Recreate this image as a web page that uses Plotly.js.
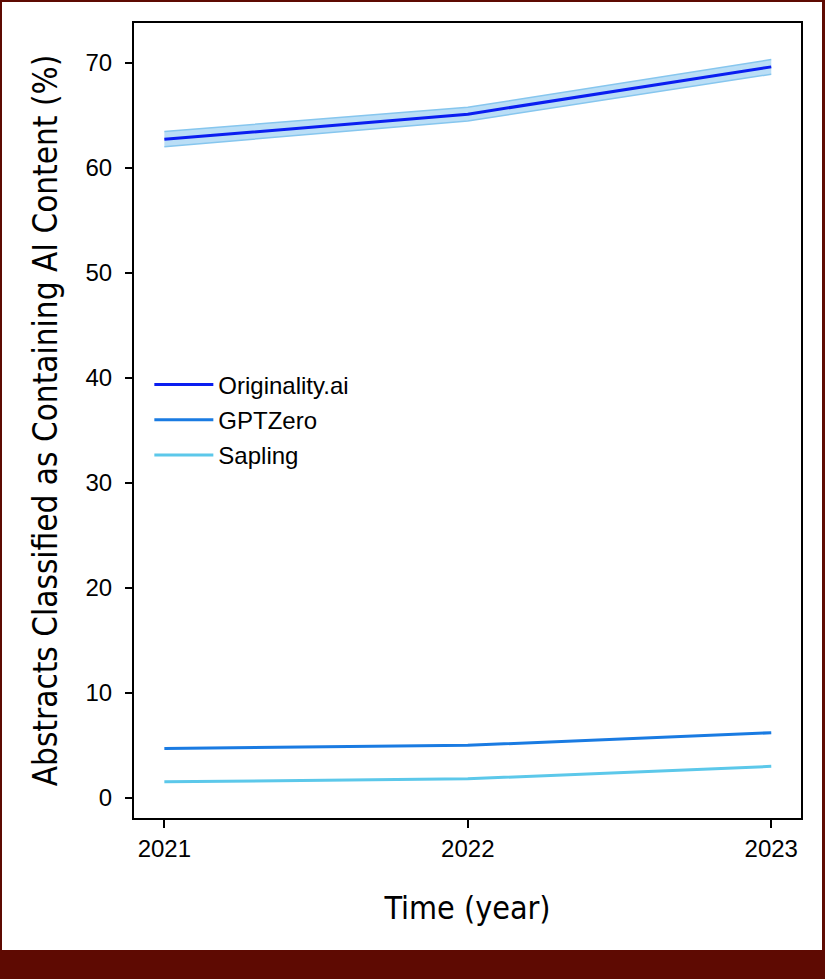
<!DOCTYPE html>
<html>
<head>
<meta charset="utf-8">
<script src="https://cdn.plot.ly/plotly-3.0.1.min.js"></script>
<style>
  html, body { margin: 0; padding: 0; background: #5E0A02; }
  #wrap { width: 825px; height: 979px; background: #5E0A02; position: relative; overflow: hidden; }
  #chart { position: absolute; left: 2px; top: 2px; width: 820px; height: 948px; background: #fff; }
</style>
</head>
<body>
<div id="wrap"><div id="chart"></div></div>
<script>
const years = [2021, 2022, 2023];
const originality = [62.7, 65.1, 69.6];
const originalityLow = [62.0, 64.45, 68.9];
const originalityHigh = [63.45, 65.75, 70.3];
const gptzero = [4.7, 4.99, 6.19];
const sapling = [1.52, 1.8, 2.99];
const seriesNames = ['Originality.ai', 'GPTZero', 'Sapling'];
const tickYears = ['2021', '2022', '2023'];

const bandEdge = '#86C6EE';
const bandFill = 'rgba(140,200,240,0.6)';
const condensedFamily = 'DejaVu Sans Condensed, Liberation Sans Narrow, sans-serif';

const traces = [
  { x: years, y: originalityHigh, mode: 'lines', line: { color: bandEdge, width: 1.5 }, showlegend: false, hoverinfo: 'skip' },
  { x: years, y: originalityLow, mode: 'lines', line: { color: bandEdge, width: 1.5 }, fill: 'tonexty', fillcolor: bandFill, showlegend: false, hoverinfo: 'skip' },
  { x: years, y: originality, mode: 'lines', name: seriesNames[0], legendgroup: 'a', line: { color: '#0A1EF0', width: 3 } },
  { x: years, y: gptzero, mode: 'lines', name: seriesNames[1], legendgroup: 'b', line: { color: '#1A7BE2', width: 3 } },
  { x: years, y: sapling, mode: 'lines', name: seriesNames[2], legendgroup: 'c', line: { color: '#5CC8EA', width: 3 } }
];

const layout = {
  width: 820, height: 948,
  margin: { l: 132, r: 21, t: 21, b: 132 },
  paper_bgcolor: '#ffffff',
  plot_bgcolor: '#ffffff',
  font: { family: 'Liberation Sans, Arial, sans-serif', color: '#000', size: 24 },
  showlegend: true,
  legend: {
    x: 0.023, y: 0.573, xanchor: 'left', yanchor: 'top',
    bgcolor: 'rgba(0,0,0,0)', font: { size: 24, color: '#000' },
    tracegroupgap: 1, itemwidth: 59
  },
  xaxis: {
    range: [2020.9, 2023.098],
    tickvals: years, ticktext: tickYears,
    ticks: 'outside', ticklen: 8, tickwidth: 2, tickcolor: '#000',
    showline: true, linecolor: '#000', linewidth: 2, mirror: true,
    showgrid: false, zeroline: false,
    tickfont: { size: 24 },
    title: { text: 'Time (year)', font: { family: condensedFamily, size: 32, color: '#000' }, standoff: 36 }
  },
  yaxis: {
    range: [-1.93, 73.78],
    tickvals: [0, 10, 20, 30, 40, 50, 60, 70],
    ticks: 'outside', ticklen: 7, tickwidth: 2, tickcolor: '#000',
    ticklabelstandoff: 8,
    showline: true, linecolor: '#000', linewidth: 2, mirror: true,
    showgrid: false, zeroline: false,
    tickfont: { size: 24 },
    title: { text: 'Abstracts Classified as Containing AI Content (%)', font: { family: condensedFamily, size: 33, color: '#000' }, standoff: 18 }
  }
};

Plotly.newPlot('chart', traces, layout, { displayModeBar: false, staticPlot: true });
</script>
</body>
</html>
